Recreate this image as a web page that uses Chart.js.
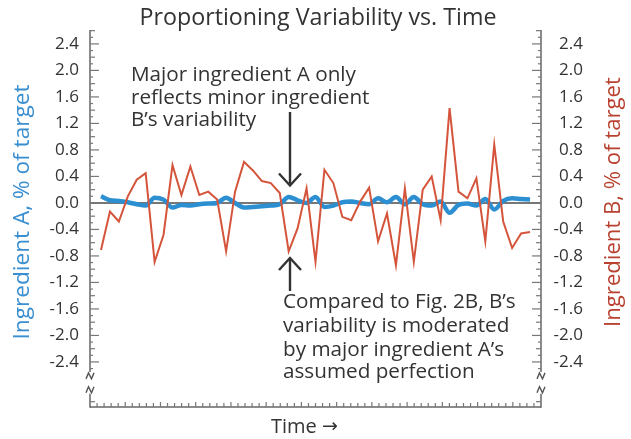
<!DOCTYPE html>
<html>
<head>
<meta charset="utf-8">
<script src="https://cdn.jsdelivr.net/npm/chart.js@4.4.1/dist/chart.umd.min.js"></script>
<style>
html,body{margin:0;padding:0;background:#fff;}
#wrap{width:631px;height:439px;position:relative;}
</style>
</head>
<body>
<div id="wrap"><canvas id="c" width="631" height="439"></canvas></div>
<script>
// ---- data ----
const timeIndex = [0,1,2,3,4,5,6,7,8,9,10,11,12,13,14,15,16,17,18,19,20,21,22,23,24,25,26,27,28,29,30,31,32,33,34,35,36,37,38,39,40,41,42,43,44,45,46,47,48];
const ingredientA = [0.10,0.04,0.03,0.01,-0.02,-0.04,0.08,0.05,-0.07,-0.03,-0.04,-0.02,-0.01,0.00,0.08,0.00,-0.07,-0.06,-0.05,-0.04,-0.02,0.09,0.04,0.00,0.09,-0.06,-0.04,0.01,0.02,0.00,-0.02,0.07,0.01,0.09,-0.02,0.09,-0.02,-0.04,0.02,-0.15,-0.03,-0.01,-0.04,0.06,-0.10,0.03,0.07,0.06,0.05];
const ingredientB = [-0.71,-0.13,-0.28,0.10,0.35,0.45,-0.89,-0.48,0.57,0.12,0.55,0.12,0.17,0.05,-0.73,0.17,0.62,0.49,0.33,0.30,0.15,-0.73,-0.38,0.22,-0.89,0.50,0.30,-0.21,-0.26,0.02,0.23,-0.58,-0.16,-0.94,0.22,-0.89,0.20,0.40,-0.26,1.43,0.17,0.07,0.37,-0.58,0.88,-0.28,-0.68,-0.46,-0.44];
const yTickLabels = ['-2.4','-2.0','-1.6','-1.2','-0.8','-0.4','0.0','0.4','0.8','1.2','1.6','2.0','2.4'];
const titleText = 'Proportioning Variability vs. Time';
const yLeftTitle = 'Ingredient A, % of target';
const yRightTitle = 'Ingredient B, % of target';
const xTitle = 'Time';
const xArrow = '\u2192';
const note1 = ['Major ingredient A only','reflects minor ingredient','B\u2019s variability'];
const note2 = ['Compared to Fig. 2B, B\u2019s','variability is moderated','by major ingredient A\u2019s','assumed perfection'];

const FAM = "'Open Sans', 'Noto Sans', sans-serif";
const Y_MIN = -3.08, Y_MAX = 2.61;
const X_MIN = -1.23, X_MAX = 49.23;
const BREAK_LO = -2.88, BREAK_HI = -2.55;

function fitSize(ctx, text, width, weight){
  ctx.save();
  ctx.font = (weight||'') + ' 100px ' + FAM;
  const w = ctx.measureText(text).width;
  ctx.restore();
  return 100 * width / w;
}
function seg(ctx,x1,y1,x2,y2){ctx.beginPath();ctx.moveTo(x1,y1);ctx.lineTo(x2,y2);ctx.stroke();}

const deco = {
  id:'deco',
  beforeDatasetsDraw(chart){
    const {ctx, chartArea:{left,right}, scales:{y}} = chart;
    ctx.save();
    const y0 = y.getPixelForValue(0);
    ctx.strokeStyle = '#4a4a4a'; ctx.lineWidth = 1.6;
    seg(ctx,left,y0,right,y0);
    ctx.restore();
  },
  afterDatasetsDraw(chart){
    const {ctx, chartArea:{left,right,top,bottom}, scales:{x,y}} = chart;
    ctx.save();
    const bTop = y.getPixelForValue(BREAK_HI), bBot = y.getPixelForValue(BREAK_LO);
    ctx.strokeStyle = '#666'; ctx.lineWidth = 1.5;
    [left,right].forEach(ax=>{
      seg(ctx,ax,top,ax,bTop);
      seg(ctx,ax,bBot,ax,bottom+0.75);
    });
    seg(ctx,left,bottom,right,bottom);
    ctx.lineWidth = 1.2; ctx.strokeStyle = '#777';
    for(let k=-30;k<=26;k++){
      const v = k/10;
      if(v>BREAK_LO-0.03 && v<BREAK_HI+0.03) continue;
      const p = y.getPixelForValue(v);
      let len = (k%2===0)?5:3;
      if(k%4===0 && Math.abs(v)<=2.41) len = 9;
      seg(ctx,left,p,left+len,p);
      seg(ctx,right,p,right-len,p);
    }
    const nX = 64;
    for(let j=1;j<nX;j++){
      const v = X_MIN + j*(X_MAX-X_MIN)/nX;
      const p = x.getPixelForValue(v);
      seg(ctx,p,bottom,p,bottom-(j%5===0?5:4));
    }
    ctx.strokeStyle = '#555'; ctx.lineWidth = 1.4;
    [left,right].forEach(ax=>{
      [bTop+4, bBot-4].forEach(cy=>{
        ctx.beginPath();
        ctx.moveTo(ax-4,cy+3); ctx.lineTo(ax-1.5,cy-3); ctx.lineTo(ax+1.5,cy+3); ctx.lineTo(ax+4,cy-3);
        ctx.stroke();
      });
    });
    ctx.fillStyle = '#333';
    ctx.textBaseline = 'alphabetic';
    ctx.textAlign = 'center';
    ctx.font = fitSize(ctx,titleText,357).toFixed(2)+'px '+FAM;
    ctx.fillText(titleText, 318, 25);
    ctx.textAlign = 'left';
    ctx.font = '20px '+FAM;
    ctx.fillText(xTitle, 271, 433);
    const tw = ctx.measureText(xTitle+' ').width;
    ctx.font = "19px 'DejaVu Sans', sans-serif";
    ctx.fillText(xArrow, 271+tw, 432);
    const s1 = fitSize(ctx,note1[0],225);
    ctx.font = s1.toFixed(2)+'px '+FAM;
    [81,103.5,126].forEach((b,i)=>ctx.fillText(note1[i],131,b));
    [308,332,355.5,378].forEach((b,i)=>ctx.fillText(note2[i],283,b));
    ctx.save();
    ctx.translate(29,212); ctx.rotate(-Math.PI/2);
    ctx.textAlign='center'; ctx.fillStyle='#3a8fd0';
    ctx.font = fitSize(ctx,yLeftTitle,255).toFixed(2)+'px '+FAM;
    ctx.fillText(yLeftTitle,0,0);
    ctx.restore();
    ctx.save();
    ctx.translate(620,202); ctx.rotate(-Math.PI/2);
    ctx.textAlign='center'; ctx.fillStyle='#b8412f';
    ctx.font = fitSize(ctx,yRightTitle,250).toFixed(2)+'px '+FAM;
    ctx.fillText(yRightTitle,0,0);
    ctx.restore();
    ctx.strokeStyle='#333'; ctx.lineWidth=2.4; ctx.lineCap='butt';
    seg(ctx,290,112,290,184);
    ctx.beginPath(); ctx.moveTo(279,173.5); ctx.lineTo(290,185.5); ctx.lineTo(301,173.5); ctx.stroke();
    seg(ctx,290,259,290,291);
    ctx.beginPath(); ctx.moveTo(279,270); ctx.lineTo(290,258); ctx.lineTo(301,270); ctx.stroke();
    ctx.restore();
  }
};

const yTicksCommon = {
  autoSkip:false,
  color:'#333',
  font:{family:FAM, size:17},
  callback:(v)=>v.toFixed(1)
};
function setTicks(scale){ scale.ticks = yTickLabels.map(t=>({value:parseFloat(t)})); }

new Chart(document.getElementById('c'), {
  type:'line',
  data:{
    datasets:[
      {label:'Ingredient B', yAxisID:'y2', data: timeIndex.map((t,i)=>({x:t,y:ingredientB[i]})),
       borderColor:'#d4553b', borderWidth:2, pointRadius:0, tension:0, order:1},
      {label:'Ingredient A', yAxisID:'y', data: timeIndex.map((t,i)=>({x:t,y:ingredientA[i]})),
       borderColor:'#2b8fd1', borderWidth:4.5, pointRadius:0, tension:0.35, cubicInterpolationMode:'monotone', order:2}
    ]
  },
  options:{
    responsive:false,
    animation:false,
    events:[],
    layout:{padding:{top:30,bottom:32,left:0,right:48}},
    plugins:{legend:{display:false},tooltip:{enabled:false},title:{display:false}},
    scales:{
      x:{type:'linear', min:X_MIN, max:X_MAX, display:false},
      y:{type:'linear', position:'left', min:Y_MIN, max:Y_MAX,
         grid:{display:false, drawTicks:false}, border:{display:false},
         afterBuildTicks:setTicks, afterFit:(s)=>{s.width=90;},
         ticks:Object.assign({padding:11, crossAlign:'near'}, yTicksCommon)},
      y2:{type:'linear', position:'right', min:Y_MIN, max:Y_MAX,
         grid:{display:false, drawTicks:false}, border:{display:false},
         afterBuildTicks:setTicks, afterFit:(s)=>{s.width=42;},
         ticks:Object.assign({padding:4, crossAlign:'far'}, yTicksCommon)}
    }
  },
  plugins:[deco]
});
</script>
</body>
</html>
